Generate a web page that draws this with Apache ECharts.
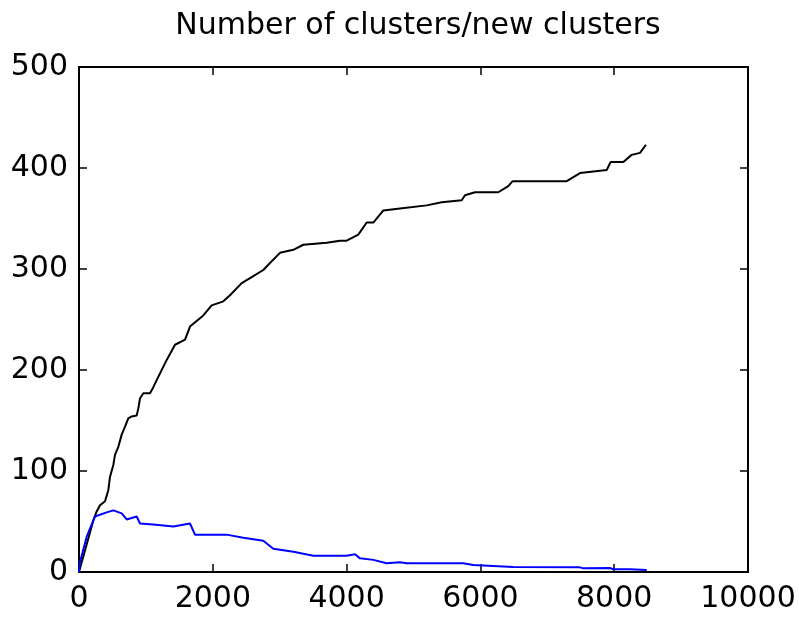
<!DOCTYPE html>
<html>
<head>
<meta charset="utf-8">
<script src="https://cdn.jsdelivr.net/npm/echarts@6/dist/echarts.min.js"></script>
<style>
  html, body { margin: 0; padding: 0; background: #fff; }
  #chart { width: 799px; height: 617px; }
</style>
</head>
<body>
<div id="chart"></div>
<script>
// total clusters (black)
const clusterX = [0, 214, 264, 314, 389, 438, 463, 513, 538, 588, 638, 688, 737, 787, 862, 887, 912, 962, 1061, 1111, 1161, 1311, 1435, 1585, 1659, 1858, 1983, 2157, 2257, 2432, 2581, 2755, 2855, 3004, 3204, 3353, 3702, 3901, 4001, 4175, 4300, 4400, 4549, 4798, 5197, 5421, 5720, 5770, 5919, 6268, 6417, 6482, 7290, 7489, 7888, 7947, 8136, 8261, 8386, 8475];
const clusterY = [0, 51, 60, 66, 70, 81, 94, 106, 116, 124, 136, 144, 152, 154, 155, 162, 172, 177, 177, 183, 190, 210, 225, 230, 243, 254, 264, 268, 274, 286, 292, 299, 306, 316, 319, 324, 326, 328, 328, 334, 346, 346, 358, 360, 363, 366, 368, 373, 376, 376, 382, 387, 387, 395, 398, 406, 406, 413, 415, 423];
// new clusters (blue)
const newX = [0, 15, 115, 239, 414, 513, 638, 713, 862, 912, 1111, 1410, 1659, 1734, 2207, 2456, 2755, 2904, 3204, 3503, 4001, 4126, 4200, 4400, 4599, 4798, 4898, 5744, 5894, 6492, 7489, 7539, 7937, 7987, 8236, 8486];
const newY = [0, 10, 35, 55, 59, 61, 58, 52, 55, 48, 47, 45, 48, 37, 37, 34, 31, 23, 20, 16, 16, 17.5, 13.5, 12, 8.6, 9.6, 8.6, 8.6, 7, 5, 4.6, 3.6, 4, 2.6, 2.6, 2];

const xTicks = [0, 2000, 4000, 6000, 8000, 10000];
const yTicks = [0, 100, 200, 300, 400, 500];

const zip = (xs, ys) => xs.map((x, i) => [x, ys[i]]);

const font = 'DejaVu Sans, sans-serif';
const axisBase = {
  type: 'value',
  axisLine: { show: true, onZero: false, lineStyle: { color: '#000', width: 2 } },
  axisTick: { show: true, inside: true, length: 8, lineStyle: { color: '#000', width: 1.5 } },
  splitLine: { show: false }
};

const chart = echarts.init(document.getElementById('chart'));
chart.setOption({
  animation: false,
  backgroundColor: '#fff',
  title: {
    text: 'Number of clusters/new clusters',
    left: 413, top: 6, textAlign: 'center',
    textStyle: { fontFamily: font, fontWeight: 'normal', fontSize: 30, color: '#000' }
  },
  grid: { left: 79, right: 51, top: 67, bottom: 45 },
  xAxis: [
    Object.assign({}, axisBase, {
      position: 'bottom', min: xTicks[0], max: xTicks[xTicks.length - 1], interval: 2000,
      axisLabel: { fontFamily: font, fontSize: 30, color: '#000', margin: 12, formatter: v => String(v) }
    }),
    Object.assign({}, axisBase, {
      position: 'top', min: xTicks[0], max: xTicks[xTicks.length - 1], interval: 2000,
      axisLabel: { show: false }
    })
  ],
  yAxis: [
    Object.assign({}, axisBase, {
      position: 'left', min: yTicks[0], max: yTicks[yTicks.length - 1], interval: 100,
      axisLabel: { fontFamily: font, fontSize: 30, color: '#000', margin: 11, formatter: v => String(v) }
    }),
    Object.assign({}, axisBase, {
      position: 'right', min: yTicks[0], max: yTicks[yTicks.length - 1], interval: 100,
      axisLabel: { show: false }
    })
  ],
  series: [
    {
      type: 'line', data: zip(clusterX, clusterY), showSymbol: false,
      lineStyle: { color: '#000', width: 2 }
    },
    {
      type: 'line', data: zip(newX, newY), showSymbol: false,
      lineStyle: { color: '#0000ff', width: 2 }
    }
  ]
});
</script>
</body>
</html>
